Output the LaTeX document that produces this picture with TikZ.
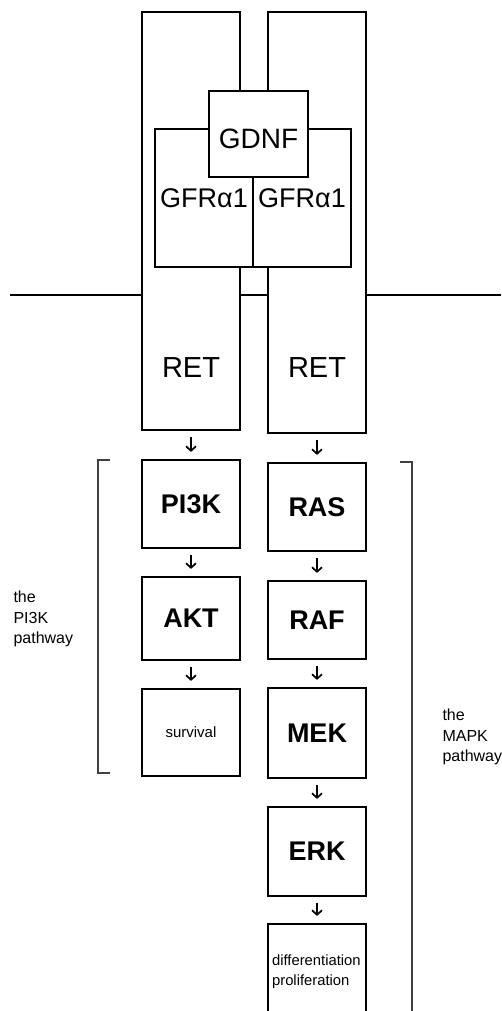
\documentclass[tikz,border=0pt]{standalone}
\usepackage{fontspec}
\setmainfont{Liberation Sans}
\usetikzlibrary{arrows.meta}

\begin{document}
\begin{tikzpicture}[x=1pt, y=-1pt,
  membrane/.style={line width=2pt},
  tallbox/.style={rectangle, draw, fill=white, line width=2.2pt,
                  minimum width=98pt, inner sep=0pt},
  recbox/.style={rectangle, draw, fill=white, line width=2.2pt,
                 minimum width=98pt, inner sep=0pt, font=\fontsize{27}{30}\selectfont},
  kinase/.style={rectangle, draw, fill=white, line width=2.2pt,
                 minimum width=98pt, inner sep=0pt, font=\bfseries\fontsize{27}{30}\selectfont},
  outcome/.style={rectangle, draw, fill=white, line width=2.2pt,
                  minimum width=98pt, inner sep=0pt, font=\fontsize{15}{20}\selectfont},
  flow/.style={-{Straight Barb[length=4.5pt,width=10pt]}, line width=1.7pt,
               shorten <=6pt, shorten >=7pt},
  bracket/.style={draw=black!75, line width=2pt},
  pathlbl/.style={anchor=west, align=left, font=\fontsize{16}{20.5}\selectfont}
]
\useasboundingbox (0,0) rectangle (501,1011);
\clip (0,0) rectangle (501,1011);

\draw[membrane] (10,295) -- (501,295);

\node[tallbox, minimum height=418pt] (ret1) at (191,221) {};
\node[font=\fontsize{29}{30}\selectfont] at ([yshift=64pt]ret1.south) {RET};
\node[tallbox, minimum height=421pt] (ret2) at (317,222.5) {};
\node[font=\fontsize{29}{30}\selectfont] at ([yshift=67pt]ret2.south) {RET};

\node[recbox, minimum height=138pt] (gfr1) at (204,198) {GFRα1};
\node[recbox, minimum height=138pt] (gfr2) at (302,198) {GFRα1};

\node[recbox, minimum width=99pt, minimum height=86pt] (gdnf) at (258.5,134) {};
\node[font=\fontsize{28}{30}\selectfont] at ([yshift=-5pt]gdnf.center) {GDNF};

\node[kinase, minimum height=88pt] (pi3k) at (191,504) {PI3K};
\node[kinase, minimum height=83pt] (akt) at (191,618.5) {AKT};
\node[outcome, minimum height=87pt] (surv) at (191,732.5) {survival};

\node[kinase, minimum height=88pt] (ras) at (317,507) {RAS};
\node[kinase, minimum height=78pt] (raf) at (317,620) {RAF};
\node[kinase, minimum height=90pt] (mek) at (317,733) {MEK};
\node[kinase, minimum height=89pt] (erk) at (317,851.5) {ERK};
\node[outcome, minimum height=90pt] (diff) at (317,969) {};
\node[anchor=west, align=left, inner sep=0pt, font=\fontsize{14.8}{20}\selectfont]
  at ([xshift=5pt,yshift=-3pt]diff.west) {differentiation\\proliferation};

\draw[flow] (ret1.south) -- (pi3k.north);
\draw[flow] (pi3k) -- (akt);
\draw[flow] (akt) -- (surv);
\draw[flow] (ret2.south) -- (ras.north);
\draw[flow] (ras) -- (raf);
\draw[flow] (raf) -- (mek);
\draw[flow] (mek) -- (erk);
\draw[flow] (erk) -- (diff);

\draw[bracket] (110,460) -- (98,460) -- (98,773) -- (110,773);
\draw[bracket] (400,462) -- (412,462) -- (412,1020);

\node[pathlbl] (pi3klbl) at (10,619) {the\\PI3K\\pathway};
\node[pathlbl] (mapklbl) at (439,737) {the\\MAPK\\pathway};
\end{tikzpicture}
\end{document}
